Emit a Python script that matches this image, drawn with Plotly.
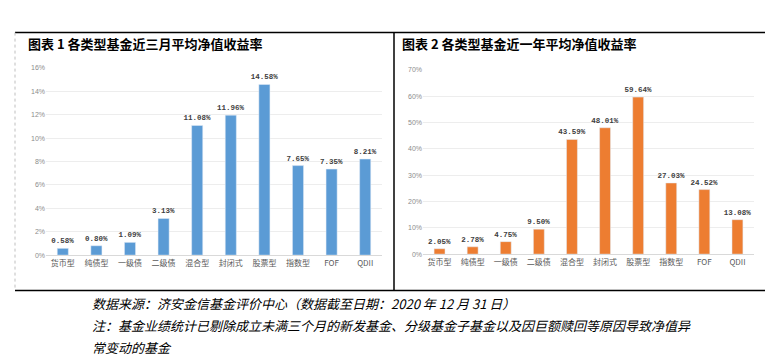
import plotly.graph_objects as go

categories = ["货币型", "纯债型", "一级债", "二级债", "混合型", "封闭式", "股票型", "指数型", "FOF", "QDII"]
three_month = [0.58, 0.80, 1.09, 3.13, 11.08, 11.96, 14.58, 7.65, 7.35, 8.21]
one_year = [2.05, 2.78, 4.75, 9.50, 43.59, 48.01, 59.64, 27.03, 24.52, 13.08]
left_ticks = [0, 2, 4, 6, 8, 10, 12, 14, 16]
right_ticks = [0, 10, 20, 30, 40, 50, 60, 70]

title_left = "图表 1 各类型基金近三月平均净值收益率"
title_right = "图表 2 各类型基金近一年平均净值收益率"
footer = [
    "数据来源：济安金信基金评价中心（数据截至日期：2020 年 12 月 31 日）",
    "注：基金业绩统计已剔除成立未满三个月的新发基金、分级基金子基金以及因巨额赎回等原因导致净值异",
    "常变动的基金",
]

W, H = 773, 356
CJK = "Noto Sans CJK SC"


def px(x):
    return x / W


def py(y):
    return 1 - y / H


fig = go.Figure()
for vals, xa, ya, col in [(three_month, "x", "y", "#5B9BD5"), (one_year, "x2", "y2", "#ED7D31")]:
    fig.add_trace(go.Bar(
        x=categories, y=vals, xaxis=xa, yaxis=ya,
        marker_color=col, texttemplate="<b>%{y:.2f}%</b>", textposition="outside",
        constraintext="none",
        textfont=dict(family="Liberation Mono", size=7.5, color="#404040"),
        cliponaxis=False, showlegend=False,
    ))

xcommon = dict(type="category", showgrid=False, showline=True, linecolor="#D9D9D9",
               linewidth=1, ticks="", tickfont=dict(family=CJK, size=8, color="#595959"),
               fixedrange=True)
ycommon = dict(showgrid=True, gridcolor="#EDEDED", gridwidth=1, zeroline=False,
               showline=False, tickfont=dict(family="Liberation Sans", size=7, color="#8C8C8C"),
               fixedrange=True)

fig.update_layout(
    width=W, height=H,
    margin=dict(l=0, r=0, t=0, b=0),
    paper_bgcolor="white", plot_bgcolor="white",
    bargap=0.67,
    xaxis=dict(domain=[px(38), px(374)], anchor="y", **xcommon),
    yaxis=dict(domain=[py(248), py(57)], anchor="x", range=[0, 16], tickvals=left_ticks,
               ticktext=[f"{v}%" for v in left_ticks], **ycommon),
    xaxis2=dict(domain=[px(415), px(746)], anchor="y2", **xcommon),
    yaxis2=dict(domain=[py(247), py(59)], anchor="x2", range=[0, 70], tickvals=right_ticks,
                ticktext=[f"{v}%" for v in right_ticks], **ycommon),
)

line_black = dict(color="black", width=1.5)
shapes = [
    dict(type="line", xref="paper", yref="paper", x0=px(7), x1=px(765), y0=py(21), y1=py(21), line=line_black),
    dict(type="line", xref="paper", yref="paper", x0=px(7), x1=px(765), y0=py(284), y1=py(284), line=line_black),
    dict(type="line", xref="paper", yref="paper", x0=px(386), x1=px(386), y0=py(21), y1=py(284), line=line_black),
    dict(type="line", xref="paper", yref="paper", x0=px(765), x1=px(765), y0=py(21), y1=py(284), line=line_black),
    dict(type="line", xref="paper", yref="paper", x0=px(7), x1=px(7), y0=py(21), y1=py(284),
         line=dict(color="#BFBFBF", width=1, dash="dot")),
    dict(type="line", xref="paper", yref="paper", x0=px(762), x1=px(762), y0=py(24), y1=py(282),
         line=dict(color="#D0D0D0", width=1, dash="dot")),
]
fig.update_layout(shapes=shapes)

ann = [
    dict(text="<b>" + title_left + "</b>", x=px(18), y=py(32), xanchor="left", yanchor="middle",
         font=dict(family=CJK, size=13, color="black")),
    dict(text="<b>" + title_right + "</b>", x=px(392), y=py(32), xanchor="left", yanchor="middle",
         font=dict(family=CJK, size=13, color="black")),
]
for txt, yy in zip(footer, [297, 320, 342]):
    ann.append(dict(text="<i>" + txt + "</i>", x=px(82), y=py(yy), xanchor="left", yanchor="middle",
                    font=dict(family=CJK, size=13, color="black")))
for a in ann:
    a.update(xref="paper", yref="paper", showarrow=False)
fig.update_layout(annotations=ann)

fig.write_html("out.html")
